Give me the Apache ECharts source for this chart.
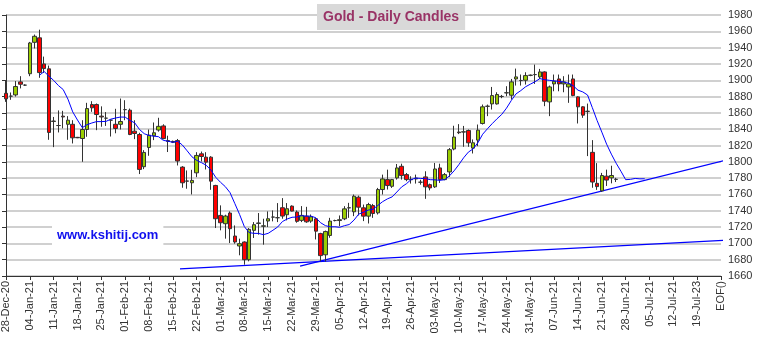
<!DOCTYPE html>
<html><head><meta charset="utf-8">
<script src="https://cdn.jsdelivr.net/npm/echarts@6/dist/echarts.min.js"></script>
<style>html,body{margin:0;padding:0;background:#fff}#c{width:763px;height:344px}</style>
</head><body><div id="c"></div>
<script>
// Weekly tick labels (every 5 trading days)
const tickLabels = ['28-Dec-20','04-Jan-21','11-Jan-21','18-Jan-21','25-Jan-21','01-Feb-21','08-Feb-21','15-Feb-21','22-Feb-21','01-Mar-21','08-Mar-21','15-Mar-21','22-Mar-21','29-Mar-21','05-Apr-21','12-Apr-21','19-Apr-21','26-Apr-21','03-May-21','10-May-21','17-May-21','24-May-21','31-May-21','07-Jun-21','14-Jun-21','21-Jun-21','28-Jun-21','05-Jul-21','12-Jul-21','19-Jul-23','EOF()'];

// Daily candles, one per trading day from 28-Dec-20
const opens = [1884,1880.5,1882,1898,1894,1908,1946.5,1952,1920,1914,
1849.5,1844.5,1856,1846,1846,1830,1828.6,1839.6,1870.2,1870.2,
1856,1853.5,1851,1846,1846,1864,1863.3,1837.6,1833.5,1794,
1817.6,1831.9,1839,1844,1826,1825,1826,1793.5,1776.5,1774.3,
1786.5,1809.8,1805.7,1805.7,1771,1734.3,1724.1,1737.2,1709,1696.8,
1701.7,1680,1716,1724.5,1721,1727.4,1732.2,1731.4,1743.7,1735.1,
1745.7,1738.4,1728.2,1733.4,1727.3,1730.1,1712,1686,1709.7,1728,
1728,1730.1,1743.5,1738.7,1756.6,1743.6,1733.4,1746.4,1737.4,1766,
1778.2,1770,1780.2,1794.5,1784.3,1778,1779,1775,1781.5,1772,
1769.3,1792.5,1778.2,1787.6,1815.7,1836.5,1836.5,1838.4,1816.8,1826.6,
1847,1868,1871,1871,1880,1884.5,1881.6,1901.6,1899.6,1900,
1906,1906.9,1904.1,1910.2,1873.5,1895.5,1901.6,1895.5,1891.8,1901.6,
1879.6,1867.4,1862,1811.6,1773.6,1764.4,1782.4,1780.4,1778.4];
const closes = [1877.2,1880.5,1892.3,1895.1,1894,1945.7,1953.9,1909.4,1914.3,1836,
1850,1844.5,1855,1851,1829.4,1829.5,1839.6,1865.3,1866.2,1858,
1855,1853.5,1851,1840.9,1849.4,1864,1833.5,1834.7,1790.7,1811.5,
1832.7,1835.6,1843.5,1828.5,1825,1824,1801,1774.3,1776.3,1777.2,
1807.8,1806.5,1799.6,1776.3,1730.2,1725.3,1733.5,1718,1701.7,1699.6,
1680,1717.2,1722.9,1725,1721.5,1730.2,1732.3,1731.5,1733.5,1742.5,
1739.6,1727,1734.3,1726.4,1732.6,1715,1685,1714.5,1727.3,1728,
1729,1742.3,1743.7,1757.8,1744.4,1733.4,1747.6,1736.6,1766,1779,
1770.9,1778.2,1792.5,1783.1,1778.2,1778.5,1780,1775,1769.3,1768,
1791.2,1778.2,1784.3,1814.9,1830.4,1835.7,1836.8,1823.3,1823.3,1838.8,
1867.4,1868.2,1881.2,1882.5,1880.2,1884.7,1898,1904.1,1899.8,1905.7,
1906.2,1907,1910.2,1874.3,1891.8,1898.8,1895.5,1898,1895.5,1881.2,
1867.4,1857.2,1861.8,1775.2,1769.6,1783.2,1777.6,1783.2,1778.6];
const lows = [1873.5,1876,1880,1890,1893,1905,1939,1903,1909,1827,
1818,1836,1841,1827,1822.5,1829,1800,1830.7,1861.3,1838.8,
1843,1844,1831,1835,1839.6,1851,1832.7,1827.8,1785,1791,
1807.4,1826.6,1837,1827.5,1812,1823,1795.5,1768.2,1767,1760,
1781.2,1800.4,1790.6,1765.7,1718.8,1716,1705.8,1700.4,1699.6,1685.4,
1673.9,1678,1706.6,1710.7,1698.4,1720,1727,1726.1,1730.2,1728.2,
1739.2,1725.3,1726.1,1725.2,1725.2,1704.8,1678,1677.7,1706.9,1727,
1721,1728.5,1731.3,1733.4,1734.2,1727.3,1724.4,1731.3,1735.4,1759.9,
1766,1768,1778.2,1778.2,1776.2,1773.3,1773.3,1772,1754.6,1765,
1768,1774.1,1777.4,1781.5,1814.1,1834,1818.4,1818.4,1810.2,1819.2,
1845.7,1856,1864.1,1870.2,1878,1880.4,1876.3,1893.5,1893.5,1894.7,
1905,1895.5,1901.6,1868.2,1856,1886.5,1886.5,1885.3,1872.3,1880.4,
1847,1853.9,1807,1768.2,1765.6,1763.2,1770.4,1773.6,1775.2];
const highs = [1899.6,1885,1899,1905,1895,1947,1956,1962,1929,1918,
1855,1863,1862.5,1856,1851,1830.5,1851,1872.3,1874.3,1871.5,
1868,1861,1852,1865,1877.6,1875.5,1865.3,1851,1835.6,1814.3,
1839.6,1848.2,1854,1846,1832,1826,1828,1794.7,1789.4,1790.2,
1811.8,1812.6,1811.8,1806.9,1771.8,1746.6,1735.1,1739.2,1722,1705.8,
1702.5,1718.8,1726.1,1737.2,1730.2,1739.2,1740.4,1749.4,1755.5,1749.4,
1746.6,1740.4,1745.7,1744.8,1735.4,1731.3,1713,1715.7,1731.3,1729,
1734.2,1745.6,1749.7,1759.9,1758.6,1747.6,1749.7,1748.4,1768,1784.3,
1790.4,1779,1797.3,1797.7,1786.3,1782.3,1784.3,1778,1788.4,1773.3,
1798.6,1797.7,1786.3,1816.9,1844.2,1846.2,1844,1839.6,1827.4,1845.7,
1870.2,1870.2,1891.8,1885.3,1882,1892.7,1901.6,1914.3,1907,1909.8,
1907,1919.2,1913.9,1911,1893.5,1907,1907,1905,1907,1907,
1880.4,1868.2,1871.4,1826.6,1798.4,1786.4,1790.4,1795.2,1780.4];

// Moving-average line (starts at trading day 7)
const maStart = 7;
const maValues = [1906.0,1910.7,1905.1,1899.8,1893.5,1888.6,1876.8,1861.2,1851.2,1841.9,
1845.5,1847.6,1849.3,1849.3,1849.6,1852.3,1853.7,1854.9,1854.8,1850.7,
1847.8,1839.7,1834.5,1832.2,1831.5,1830.8,1826.3,1825.3,1823.9,1825.2,
1820.6,1813.5,1806.2,1801.8,1799.0,1795.8,1789.9,1781.0,1774.9,1769.6,
1762.2,1748.9,1735.5,1720.6,1713.2,1712.3,1712.2,1710.7,1712.3,1716.1,
1720.1,1726.8,1729.9,1732.0,1732.3,1733.9,1733.4,1733.4,1731.4,1725.3,
1721.8,1720.3,1720.4,1719.7,1721.7,1723.1,1728.5,1735.9,1738.2,1740.8,
1741.9,1746.5,1751.1,1754.5,1757.0,1763.0,1769.2,1773.1,1778.3,1780.1,
1779.6,1779.4,1778.1,1777.9,1777.3,1778.1,1782.6,1788.9,1796.5,1804.9,
1811.9,1815.9,1823.4,1833.8,1840.5,1846.8,1852.7,1858.1,1865.8,1875.1,
1883.3,1887.3,1892.0,1895.2,1898.2,1902.0,1900.7,1899.9,1899.2,1898.7,
1897.7,1896.4,1893.2,1887.8,1885.7,1881.9,1866.5,1850.7,1836.4,1821.7,
1809.4,1798.3,1788.5,1778.1,1778.5,1779.6,1779.1,1779.2];

// Trend lines: [trading-day index, price]
const trendLow = [[36.5,1668.8],[153,1704.5]];
const trendUp = [[61.7,1672],[153,1805]];

const FONT = "'Liberation Sans', Arial, sans-serif";
const candleData = opens.map((o,i)=>[i, o, closes[i], lows[i], highs[i]]);
const maData = maValues.map((v,k)=>[maStart+k, v]);

const chart = echarts.init(document.getElementById('c'), null, {renderer:'canvas'});
chart.setOption({
  animation:false,
  backgroundColor:'#ffffff',
  title:[
    {text:'Gold - Daily Candles', left:317, top:4, padding:[6,6,6,6], backgroundColor:'#d9d9d9',
     textStyle:{color:'#993366', fontSize:14, fontWeight:'bold', fontFamily:FONT}},
    {text:'www.kshitij.com', left:52, top:225, padding:[4,5,4,5], backgroundColor:'#ffffff',
     textStyle:{color:'#1010ee', fontSize:13, fontWeight:'bold', fontFamily:FONT}}
  ],
  grid:{left:6, right:42, top:15, bottom:68, containLabel:false},
  xAxis:{type:'value', min:0, max:150, interval:5,
    axisLine:{show:true, lineStyle:{color:'#333', width:1}},
    axisTick:{show:true, length:4, lineStyle:{color:'#333'}},
    splitLine:{show:false},
    axisLabel:{rotate:90, margin:5, fontSize:11, color:'#333', fontFamily:FONT,
      formatter:(v)=>tickLabels[Math.round(v/5)] || ''}
  },
  yAxis:{type:'value', position:'right', min:1660, max:1980, interval:20,
    axisLine:{show:true, lineStyle:{color:'#333', width:1}},
    axisTick:{show:true, inside:true, length:4, lineStyle:{color:'#333'}},
    splitLine:{show:true, lineStyle:{color:'#c0c0c0', width:1.5}},
    axisLabel:{margin:7, fontSize:11, color:'#333', fontFamily:FONT, formatter:(v)=>String(v)}
  },
  series:[
    {type:'line', data:trendLow, symbol:'none', clip:false, z:3,
     lineStyle:{color:'#0000ff', width:1.3}},
    {type:'line', data:trendUp, symbol:'none', clip:false, z:3,
     lineStyle:{color:'#0000ff', width:1.3}},
    {type:'candlestick', data:candleData, barWidth:4, clip:false, z:4,
     itemStyle:{color:'#99cc00', color0:'#ff0000', borderColor:'#333', borderColor0:'#333', borderColorDoji:'#333', borderWidth:1}},
    {type:'line', data:maData, symbol:'none', clip:false, z:5,
     lineStyle:{color:'#0000ff', width:1}}
  ]
});
</script>
</body></html>
